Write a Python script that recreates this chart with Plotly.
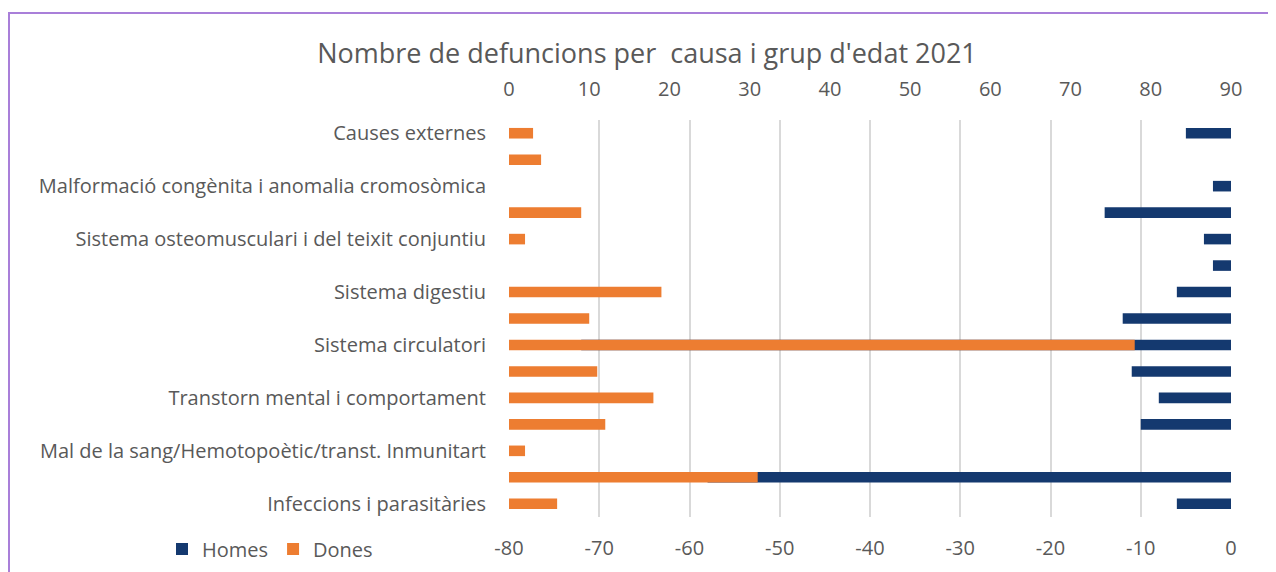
import plotly.graph_objects as go

# Categories listed bottom -> top (as in the source chart)
categories = [
    "Infeccions i parasitàries",
    "Tumors",
    "Mal de la sang/Hemotopoètic/transt. Inmunitart",
    "Endocrines, nutricionals i metabòliques",
    "Transtorn mental i comportament",
    "Sistema nerviós",
    "Sistema circulatori",
    "Sistema respiratori",
    "Sistema digestiu",
    "Pell i teixit subcutani",
    "Sistema osteomusculari i del teixit conjuntiu",
    "Sistema genitourinari",
    "Malformació congènita i anomalia cromosòmica",
    "Símptomes i causes mal definides",
    "Causes externes",
]
shown_labels = categories[0::2]

homes = [6, 58, 0, 10, 8, 11, 72, 12, 6, 2, 3, 14, 2, 0, 5]
dones = [6, 31, 2, 12, 18, 11, 78, 10, 19, 0, 2, 9, 0, 4, 3]

bottom_ticks = [-80, -70, -60, -50, -40, -30, -20, -10, 0]
top_ticks = [0, 10, 20, 30, 40, 50, 60, 70, 80, 90]

NAVY = "#14396F"
ORANGE = "#ED7D31"
GRAY = "#595959"
FONT = "Open Sans"
TS = 20

# page has an 8px body margin; size the figure accordingly
W, H = 1268, 564
ML, MR, MT, MB = 501, 45, 112, 55
PW = W - ML - MR
PH = H - MT - MB

fig = go.Figure()
fig.add_trace(go.Bar(
    y=categories, x=[-v for v in homes], orientation="h", name="Homes",
    marker=dict(color=NAVY, line=dict(width=0)), width=0.4,
    xaxis="x", yaxis="y",
))
fig.add_trace(go.Bar(
    y=categories, x=dones, orientation="h", name="Dones",
    marker=dict(color=ORANGE, line=dict(width=0)), width=0.4,
    xaxis="x2", yaxis="y",
))

fig.update_layout(
    width=W, height=H,
    margin=dict(l=ML, r=MR, t=MT, b=MB, autoexpand=False),
    paper_bgcolor="white", plot_bgcolor="white",
    barmode="overlay",
    font=dict(family=FONT, color=GRAY, size=TS),
    title=dict(
        text="Nombre de defuncions per  causa i grup d'edat 2021",
        x=(647 - 8) / W, xanchor="center", y=1 - (54 - 8) / H, yanchor="middle",
        font=dict(size=27, color=GRAY, family=FONT),
    ),
    xaxis=dict(
        range=[-80, 0], tickvals=bottom_ticks, ticktext=[str(v) for v in bottom_ticks],
        showgrid=True, gridcolor="#D9D9D9", gridwidth=2, zeroline=False,
        showline=False, ticks="", ticklabelstandoff=17, automargin=False,
        tickfont=dict(size=TS, color=GRAY),
    ),
    xaxis2=dict(
        range=[0, 90], tickvals=top_ticks, ticktext=[str(v) for v in top_ticks],
        overlaying="x", side="top", showgrid=False, zeroline=False,
        showline=False, ticks="", ticklabelstandoff=19, automargin=False,
        tickfont=dict(size=TS, color=GRAY),
    ),
    yaxis=dict(
        type="category", categoryorder="array", categoryarray=categories,
        tickvals=shown_labels, ticktext=shown_labels,
        showgrid=False, zeroline=False, showline=False, ticks="",
        ticklabelstandoff=22, tickfont=dict(size=TS, color=GRAY),
        range=[-0.5, len(categories) - 0.5], automargin=False,
    ),
    legend=dict(
        orientation="h", x=(162 - 509) / PW, xanchor="left",
        y=(517 - 549) / PH, yanchor="middle",
        font=dict(size=TS, color=GRAY), bgcolor="rgba(0,0,0,0)",
        itemwidth=30, traceorder="normal",
    ),
    shapes=[dict(
        type="rect", xref="paper", yref="paper",
        x0=(9 - 509) / PW, x1=1.5, y0=-0.5, y1=1 + (120 - 13) / PH,
        line=dict(color="#A97FD9", width=2), fillcolor="rgba(0,0,0,0)",
        layer="below",
    )],
)

fig.write_html("out.html")
